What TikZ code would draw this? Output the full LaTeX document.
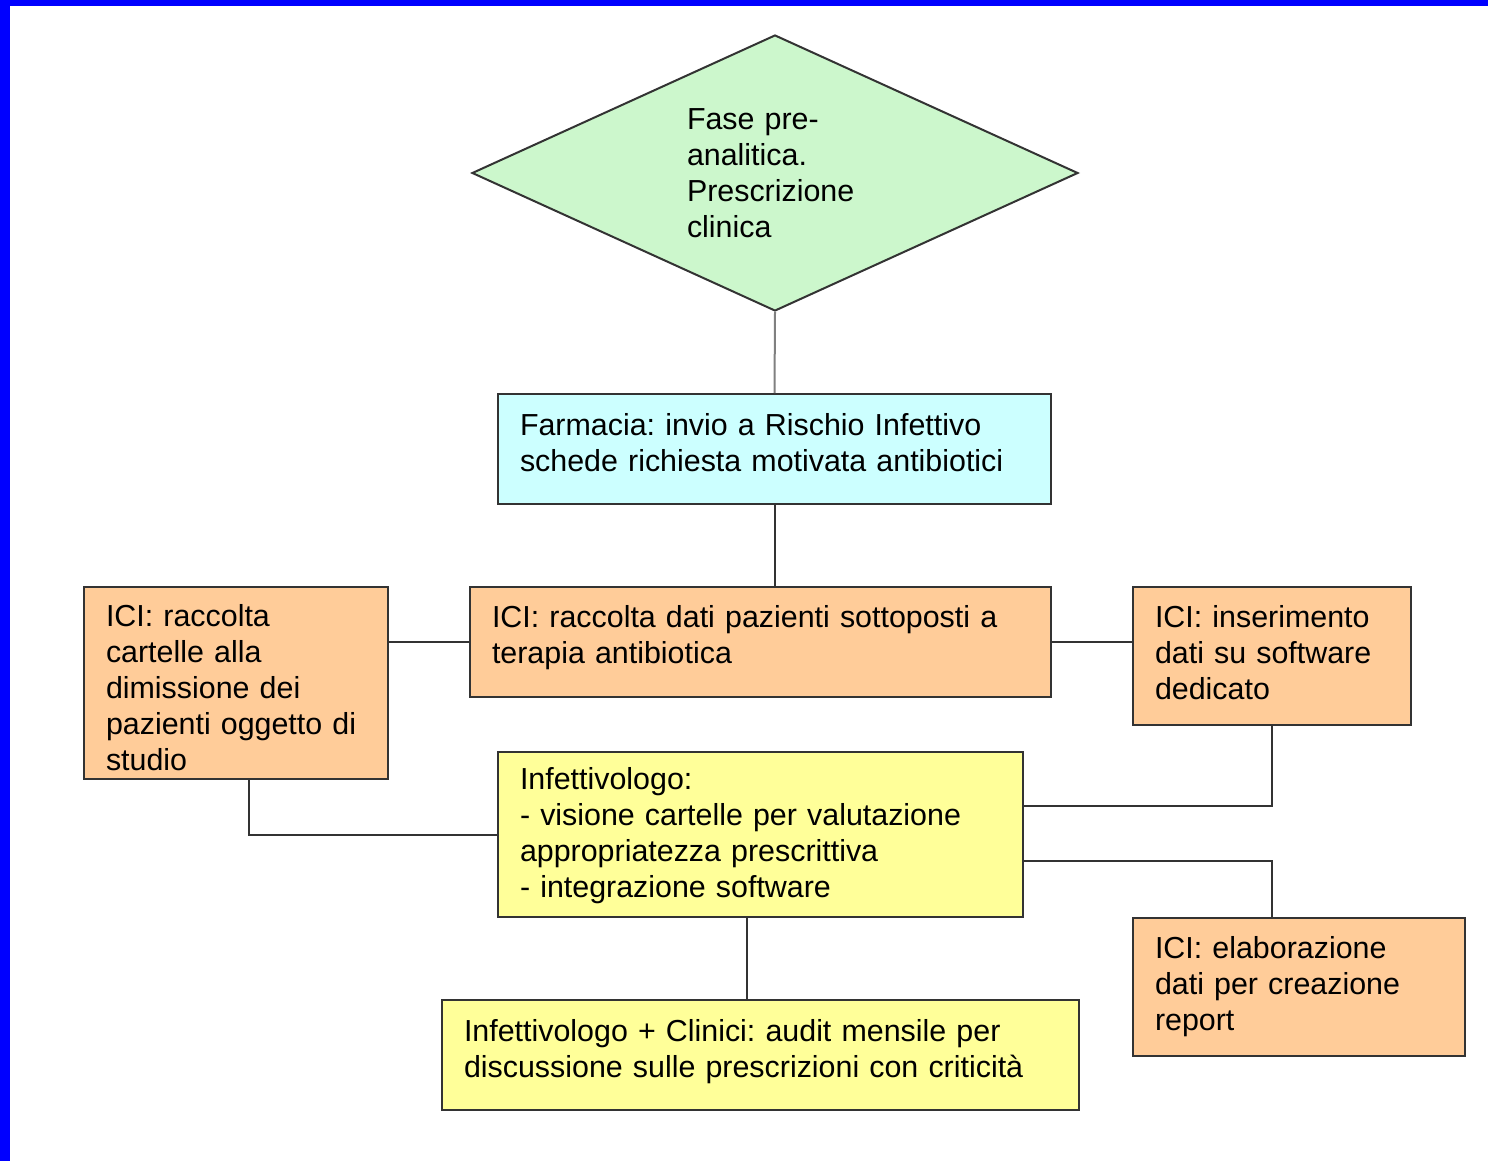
\documentclass[tikz,border=0pt]{standalone}
\usepackage{fontspec}
\setmainfont{Liberation Sans}
\usetikzlibrary{shapes.geometric}
\definecolor{faseverde}{HTML}{CCF7CC}
\definecolor{farmciano}{HTML}{CCFFFF}
\definecolor{iciarancio}{HTML}{FFCC99}
\definecolor{infgiallo}{HTML}{FFFF99}
\definecolor{cornice}{HTML}{0000FF}
\definecolor{tratto}{HTML}{333333}
\frenchspacing

\tikzset{
  scheda/.style={draw=tratto,line width=2pt,align=left,inner xsep=22pt,inner ysep=0pt,
    font=\fontsize{30.4}{36}\selectfont},
  legame/.style={draw=tratto,line width=2pt},
}

\begin{document}
\begin{tikzpicture}[x=1pt,y=-1pt]
\useasboundingbox (0,0) rectangle (1488,1161);
\fill[cornice] (0,0) rectangle (1488,6);
\fill[cornice] (0,0) rectangle (10,1161);

\node[diamond,draw=tratto,fill=faseverde,line width=2pt,minimum width=606pt,minimum height=276pt,
  shape aspect=2.2,inner sep=0pt,align=left,text width=176pt,font=\fontsize{30.4}{36}\selectfont] (fase) at (775,173)
  {Fase pre-\\analitica.\\Prescrizione\\clinica};
\node[scheda,fill=farmciano,minimum width=553pt,minimum height=110pt,text width=509pt,text depth=50pt] (farmacia) at (774.5,449)
  {Farmacia: invio a Rischio Infettivo\\schede richiesta motivata antibiotici};
\node[scheda,fill=iciarancio,minimum width=581pt,minimum height=110pt,text width=537pt,text depth=52pt] (icicentro) at (760.5,642)
  {ICI: raccolta dati pazienti sottoposti a\\terapia antibiotica};
\node[scheda,fill=iciarancio,minimum width=304pt,minimum height=192pt,text width=260pt,text depth=136pt] (icisinistra) at (236,683)
  {ICI: raccolta\\cartelle alla\\dimissione dei\\pazienti oggetto di\\studio};
\node[scheda,fill=iciarancio,minimum width=278pt,minimum height=138pt,text width=234pt,text depth=80pt] (icidestra) at (1272,656)
  {ICI: inserimento\\dati su software\\dedicato};
\node[scheda,fill=infgiallo,minimum width=525pt,minimum height=165pt,text width=481pt,text depth=112pt] (infettivologo) at (760.5,834.5)
  {Infettivologo:\\- visione cartelle per valutazione\\appropriatezza prescrittiva\\- integrazione software};
\node[scheda,fill=iciarancio,minimum width=332pt,minimum height=138pt,text width=288pt] (icireport) at (1299,987)
  {ICI: elaborazione\\dati per creazione\\report};
\node[scheda,fill=infgiallo,minimum width=637pt,minimum height=110pt,text width=593pt,text depth=49pt] (audit) at (760.5,1055)
  {Infettivologo + Clinici: audit mensile per\\discussione sulle prescrizioni con criticità};

% collegamenti
\draw[legame,draw=gray] (fase.south) -- (farmacia.north);
\draw[legame] (farmacia.south) -- (farmacia.south |- icicentro.north);
\draw[legame] (icicentro.west) -- (icicentro.west -| icisinistra.east);
\draw[legame] (icicentro.east) -- (icicentro.east -| icidestra.west);
\draw[legame] ([xshift=13pt]icisinistra.south) |- (infettivologo.west);
\draw[legame] (icidestra.south) |- ([yshift=28.5pt]infettivologo.east);
\draw[legame] ([yshift=-26.5pt]infettivologo.east) -| ([xshift=-27pt]icireport.north);
\draw[legame] ([xshift=-13.5pt]infettivologo.south) -- ([xshift=-13.5pt]infettivologo.south |- audit.north);
\end{tikzpicture}
\end{document}
